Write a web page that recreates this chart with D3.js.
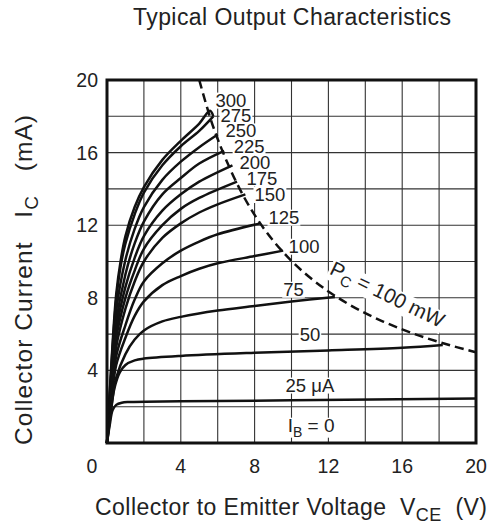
<!DOCTYPE html>
<html>
<head>
<meta charset="utf-8">
<script src="https://cdn.jsdelivr.net/npm/d3@7"></script>
<style>
    body { margin: 0; background: #fff; }
    text { font-family: "Liberation Sans", Arial, Helvetica, sans-serif; fill: #222; }
</style>
</head>
<body>
<svg id="chart" width="493" height="527"></svg>
<script>
// collector current (mA) vs V_CE (V), one array per base current
const ib300 = [[0,0],[0.25,4.6],[0.5,8.2],[0.75,10.1],[1,11.4],[1.5,13.0],[2,14.1],[3,15.6],[4,16.65],[5,17.6],[5.58,18.3],[5.76,18.0]];
const ib275 = [[0,0],[0.25,4.4],[0.5,7.9],[0.75,9.8],[1,11.0],[1.5,12.6],[2,13.8],[3,15.3],[4,16.35],[5,17.2],[5.76,18.0]];
const ib250 = [[0,0],[0.25,4.1],[0.5,7.3],[1,10.1],[1.5,11.8],[2,13.0],[3,14.5],[4,15.5],[5,16.3],[6.0,17.0]];
const ib225 = [[0,0],[0.25,3.8],[0.5,6.7],[1,9.3],[1.5,11.0],[2,12.2],[3,13.7],[4,14.6],[5,15.4],[6.35,16.1]];
const ib200 = [[0,0],[0.25,3.5],[0.5,6.2],[1,8.6],[1.5,10.2],[2,11.4],[3,12.8],[4,13.7],[5,14.4],[6.8,15.3]];
const ib175 = [[0,0],[0.25,3.3],[0.5,5.8],[1,8.0],[1.5,9.5],[2,10.7],[3,12.0],[4,12.9],[5,13.5],[7.05,14.4]];
const ib150 = [[0,0],[0.25,3.1],[0.5,5.3],[1,7.4],[1.5,8.9],[2,10.0],[3,11.3],[4,12.1],[5,12.7],[6,13.15],[7.5,13.7]];
const ib125 = [[0,0],[0.25,2.8],[0.5,4.8],[1,6.5],[1.5,7.9],[2,8.9],[3,9.9],[4,10.6],[5,11.1],[6,11.5],[8.3,12.1]];
const ib100 = [[0,0],[0.25,2.5],[0.5,4.3],[1,5.8],[1.5,7.0],[2,7.8],[3,8.7],[4,9.2],[5,9.6],[6,9.9],[8,10.3],[9.55,10.6]];
const ib75  = [[0,0],[0.25,2.1],[0.5,3.6],[1,4.9],[1.5,5.7],[2,6.2],[3,6.7],[4,6.95],[6,7.3],[8,7.55],[10,7.8],[12.35,8.05]];
const ib50  = [[0,0],[0.2,1.6],[0.4,3.0],[0.7,3.9],[1,4.3],[1.5,4.55],[2,4.65],[4,4.8],[8,4.97],[12,5.1],[16,5.25],[18.2,5.4]];
const ib25  = [[0,0],[0.15,1.0],[0.3,1.8],[0.5,2.1],[0.8,2.22],[1.2,2.26],[4,2.3],[10,2.35],[20,2.45]];
const curves = [ib300, ib275, ib250, ib225, ib200, ib175, ib150, ib125, ib100, ib75, ib50, ib25];

// P_C = 100 mW limit, I = P / V
const powerLimit = [[5,20],[5.5,18.18],[6,16.67],[7,14.29],[8,12.5],[9,11.11],[10,10],[11,9.09],[12,8.33],[13,7.69],[14,7.14],[15,6.67],[16,6.25],[17,5.88],[18,5.56],[19,5.26],[20,5]];

// curve labels: text and where they sit (V, mA)
const labelText = ['300','275','250','225','200','175','150','125','100','75','50','25 μA'];
const labelAt   = [[6.72,18.9],[6.99,18.05],[7.26,17.2],[7.70,16.33],[8.02,15.45],[8.40,14.6],[8.83,13.7],[9.59,12.45],[10.68,10.85],[10.11,8.48],[11.0,5.98],[11.0,3.2]];

const xTicks = [0, 4, 8, 12, 16, 20];
const yTicks = [4, 8, 12, 16, 20];
const gridStep = 2;

const svg = d3.select('#chart');
const plotLeft = 107, plotRight = 476, plotTop = 80, plotBottom = 443;

const x = d3.scaleLinear().domain([0, 20]).range([plotLeft, plotRight]);
const y = d3.scaleLinear().domain([0, 20]).range([plotBottom, plotTop]);

// grid
const grid = svg.append('g')
    .attr('stroke', '#333')
    .attr('stroke-width', 1.1);
grid.selectAll('line.v')
    .data(d3.range(gridStep, 20, gridStep))
    .join('line')
    .attr('class', 'v')
    .attr('x1', d => x(d)).attr('x2', d => x(d))
    .attr('y1', plotTop).attr('y2', plotBottom);
grid.selectAll('line.h')
    .data(d3.range(gridStep, 20, gridStep))
    .join('line')
    .attr('class', 'h')
    .attr('x1', plotLeft).attr('x2', plotRight)
    .attr('y1', d => y(d)).attr('y2', d => y(d));

const line = d3.line()
    .x(d => x(d[0]))
    .y(d => y(d[1]))
    .curve(d3.curveCatmullRom.alpha(0.5));

svg.append('g')
    .attr('fill', 'none')
    .attr('stroke', '#111')
    .attr('stroke-width', 2.5)
    .attr('stroke-linejoin', 'round')
    .selectAll('path')
    .data(curves)
    .join('path')
    .attr('d', line);

svg.append('path')
    .datum(powerLimit)
    .attr('fill', 'none')
    .attr('stroke', '#111')
    .attr('stroke-width', 2.5)
    .attr('stroke-dasharray', '9,5')
    .attr('d', d3.line().x(d => x(d[0])).y(d => y(d[1])).curve(d3.curveBasis));

// labels with white backing, box trimmed to the glyphs
const labels = svg.append('g');
function addLabel(g, pad) {
    const bb = g.node().getBBox();
    g.insert('rect', ':first-child')
        .attr('x', bb.x - pad).attr('y', bb.y + 3)
        .attr('width', bb.width + pad * 2).attr('height', bb.height - 5)
        .attr('fill', '#fff');
}
labelText.forEach((t, i) => {
    const g = labels.append('g');
    g.append('text')
        .attr('x', x(labelAt[i][0]))
        .attr('y', y(labelAt[i][1]))
        .attr('dy', '0.36em')
        .attr('text-anchor', 'middle')
        .attr('font-size', 18.5)
        .text(t);
    addLabel(g, 1);
});

// I_B = 0
const ib0 = labels.append('g');
const ib0t = ib0.append('text')
    .attr('x', x(11.06)).attr('y', y(1.0))
    .attr('dy', '0.36em')
    .attr('text-anchor', 'middle')
    .attr('font-size', 19);
ib0t.append('tspan').text('I');
ib0t.append('tspan').attr('dy', 5).attr('font-size', 14).text('B');
ib0t.append('tspan').attr('dy', -5).text(' = 0');
addLabel(ib0, 1);

// P_C = 100 mW along the limit line
const pc = labels.append('g')
    .attr('transform', `translate(${x(15.2)},${y(8.2)}) rotate(26)`);
const pct = pc.append('text')
    .attr('text-anchor', 'middle')
    .attr('dy', '0.36em')
    .attr('font-size', 20.5);
pct.append('tspan').text('P');
pct.append('tspan').attr('dy', 5).attr('font-size', 15).text('C');
pct.append('tspan').attr('dy', -5).text(' = 100 mW');
addLabel(pc, 1);

// frame
svg.append('rect')
    .attr('x', plotLeft).attr('y', plotTop)
    .attr('width', plotRight - plotLeft).attr('height', plotBottom - plotTop)
    .attr('fill', 'none')
    .attr('stroke', '#111')
    .attr('stroke-width', 3);

// tick labels
svg.append('g')
    .selectAll('text')
    .data(xTicks)
    .join('text')
    .attr('x', d => x(d) - (d === 0 ? 15 : 0))
    .attr('y', 473)
    .attr('text-anchor', 'middle')
    .attr('font-size', 19.5)
    .text(d => d);

svg.append('g')
    .selectAll('text')
    .data(yTicks)
    .join('text')
    .attr('x', 98)
    .attr('y', d => y(d))
    .attr('dy', '0.36em')
    .attr('text-anchor', 'end')
    .attr('font-size', 19.5)
    .text(d => d);

// titles
svg.append('text')
    .attr('x', 292).attr('y', 25)
    .attr('text-anchor', 'middle')
    .attr('font-size', 23)
    .attr('textLength', 318)
    .attr('lengthAdjust', 'spacing')
    .text('Typical Output Characteristics');

const xl = svg.append('text')
    .attr('x', 95).attr('y', 515)
    .attr('font-size', 23)
    .attr('xml:space', 'preserve')
    .attr('textLength', 392)
    .attr('lengthAdjust', 'spacing');
xl.append('tspan').text('Collector to Emitter Voltage  V');
xl.append('tspan').attr('dy', 6).attr('font-size', 18).text('CE');
xl.append('tspan').attr('dy', -6).text('  (V)');

const yl = svg.append('text')
    .attr('transform', `translate(32,445) rotate(-90)`)
    .attr('font-size', 24.5)
    .attr('xml:space', 'preserve')
    .attr('textLength', 330)
    .attr('lengthAdjust', 'spacing');
yl.append('tspan').text('Collector Current   I');
yl.append('tspan').attr('dy', 6).attr('font-size', 19).text('C');
yl.append('tspan').attr('dy', -6).text('   (mA)');
</script>
</body>
</html>
